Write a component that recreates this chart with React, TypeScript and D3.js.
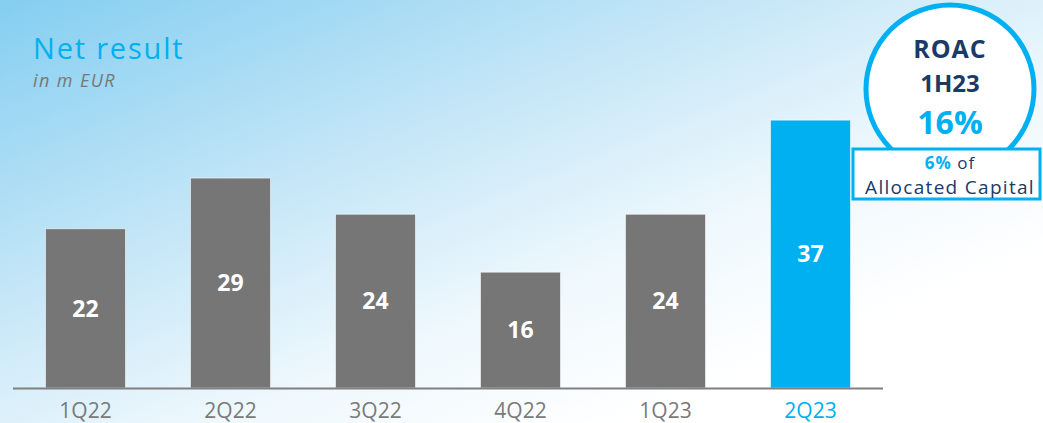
import React from "react";
import * as d3 from "d3";

const categories = ["1Q22", "2Q22", "3Q22", "4Q22", "1Q23", "2Q23"];
const values = [22, 29, 24, 16, 24, 37];
const highlight = ["2Q23"];
const title = "Net result";
const subtitle = "in m EUR";
const roacLines = ["ROAC", "1H23"];
const roacValue = "16%";
const capitalShare = "6%";

const W = 1043;
const H = 423;
const FONT = "'Open Sans', Lato, sans-serif";
const CYAN = "#00b0f0";
const GRAY = "#767676";
const NAVY = "#1a3a68";

export default function App() {
  const x = d3
    .scaleBand<string>()
    .domain(categories)
    .range([13, 883])
    .paddingInner(0.448)
    .paddingOuter(0.224);
  const y = d3.scaleLinear().domain([0, 40]).range([388, 98.4]);

  const cx = 950;
  const cy = 89;
  const r = 84;

  return (
    <svg
      width={W}
      height={H}
      style={{ position: "absolute", left: 0, top: 0, display: "block" }}
      fontFamily={FONT}
    >
      <defs>
        <linearGradient id="bg" x1="0" y1="0" x2="1" y2="1">
          <stop offset="0" stopColor="#84cef1" />
          <stop offset="0.35" stopColor="#c4e6f7" />
          <stop offset="0.6" stopColor="#eef8fd" />
          <stop offset="0.8" stopColor="#ffffff" />
        </linearGradient>
      </defs>
      <rect x={0} y={0} width={W} height={H} fill="url(#bg)" />

      <text x={33} y={59} fill={CYAN} fontSize={29} letterSpacing={1.8}>
        {title}
      </text>
      <text x={33} y={87} fill="#777" fontSize={18} fontStyle="italic" letterSpacing={1.4}>
        {subtitle}
      </text>

      {categories.map((c, i) => {
        const isHi = highlight.includes(c);
        const x0 = x(c) as number;
        const top = y(values[i]);
        const bottom = y(0);
        return (
          <g key={c}>
            <rect
              x={x0}
              y={top}
              width={x.bandwidth()}
              height={bottom - top}
              fill={isHi ? CYAN : GRAY}
              stroke="rgba(255,255,255,0.6)"
              strokeWidth={1}
            />
            <text
              x={x0 + x.bandwidth() / 2}
              y={(top + bottom) / 2}
              dy="0.36em"
              textAnchor="middle"
              fill="#fff"
              fontWeight="bold"
              fontSize={23}
            >
              {values[i]}
            </text>
            <text
              x={x0 + x.bandwidth() / 2}
              y={418}
              textAnchor="middle"
              fill={isHi ? CYAN : "#7a7a7a"}
              fontSize={21}
            >
              {c}
            </text>
          </g>
        );
      })}

      <line x1={13} x2={883} y1={388.5} y2={388.5} stroke="#808080" strokeWidth={2} />

      <circle cx={cx} cy={cy} r={r} fill="#ffffff" stroke={CYAN} strokeWidth={5} />
      <text x={950} y={58} textAnchor="middle" fill={NAVY} fontWeight="bold" fontSize={25} letterSpacing={1}>
        {roacLines[0]}
      </text>
      <text x={950} y={92} textAnchor="middle" fill={NAVY} fontWeight="bold" fontSize={24}>
        {roacLines[1]}
      </text>
      <text x={950} y={134} textAnchor="middle" fill={CYAN} fontWeight="bold" fontSize={32}>
        {roacValue}
      </text>

      <rect x={853} y={149} width={187} height={50} fill="#ffffff" stroke={CYAN} strokeWidth={3} />
      <text x={950} y={169} textAnchor="middle" fill={NAVY} fontSize={17} letterSpacing={1}>
        <tspan fill={CYAN} fontWeight="bold">{capitalShare}</tspan>
        <tspan> of</tspan>
      </text>
      <text x={950} y={194} textAnchor="middle" fill={NAVY} fontSize={19} letterSpacing={1.3}>
        Allocated Capital
      </text>
    </svg>
  );
}
